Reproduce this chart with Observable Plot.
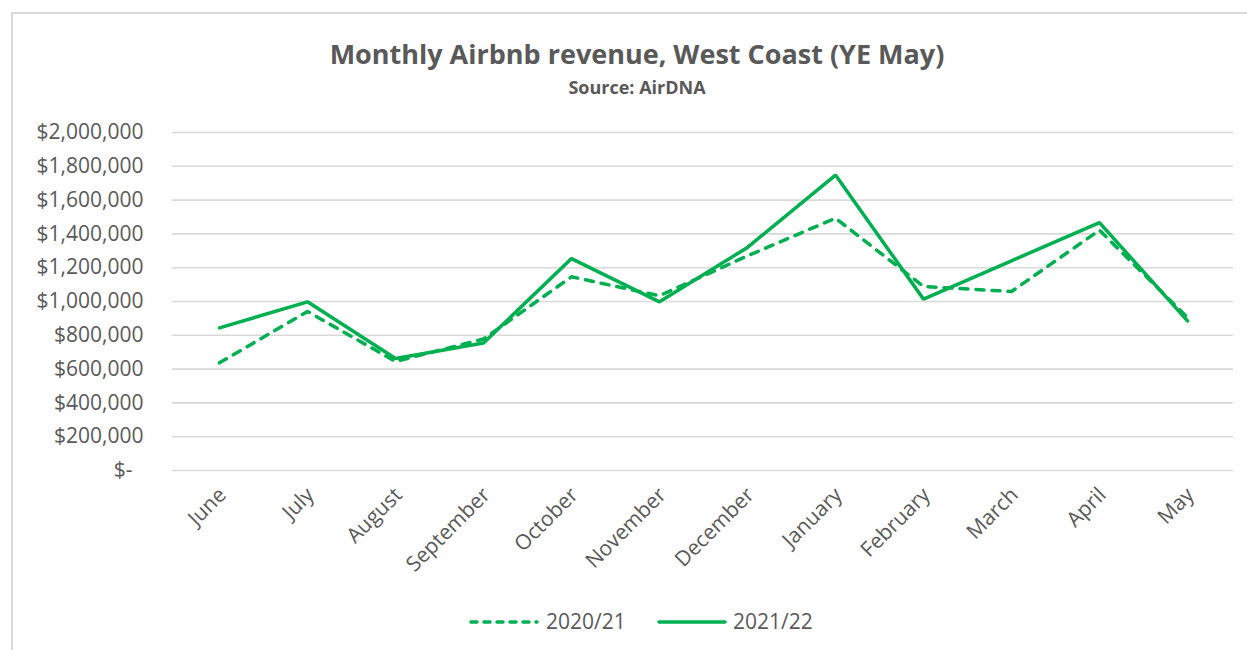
<!DOCTYPE html>
<html><head><meta charset="utf-8">
<script src="https://cdn.jsdelivr.net/npm/d3@7"></script>
<script src="https://cdn.jsdelivr.net/npm/@observablehq/plot@0.6"></script>
<style>
body{margin:0;background:#fff;}
#wrap{position:relative;width:1247px;height:650px;overflow:hidden;background:#fff}
#frame{position:absolute;left:11px;top:12px;width:1300px;height:700px;border:2px solid #d9d9d9;box-sizing:border-box}
#chart{position:absolute;left:0;top:0}
#overlay{position:absolute;left:0;top:0}
</style></head>
<body>
<div id="wrap"><div id="frame"></div><div id="chart"></div><svg id="overlay" width="1247" height="650"></svg></div>
<script>
const months = ["June","July","August","September","October","November","December","January","February","March","April","May"];
const series = ["2020/21","2021/22"];
const rev2021 = [637000, 941000, 645000, 778000, 1146000, 1034000, 1270000, 1493000, 1089000, 1059000, 1422000, 905000];
const rev2122 = [844000, 998000, 663000, 754000, 1254000, 998000, 1320000, 1748000, 1014000, 1241000, 1467000, 885000];
const yTicks = [0,200000,400000,600000,800000,1000000,1200000,1400000,1600000,1800000,2000000];
const title = "Monthly Airbnb revenue, West Coast (YE May)";
const subtitle = "Source: AirDNA";

const green = "#00b050";
const grey = "#595959";
const data = months.flatMap((m, i) => [
  {month: m, season: series[0], value: rev2021[i]},
  {month: m, season: series[1], value: rev2122[i]}
]);
const fmt = d => d === 0 ? "$-\u00a0\u00a0" : "$" + d3.format(",")(d);

const chart = Plot.plot({
  width: 1247, height: 650,
  marginLeft: 172, marginRight: 14, marginTop: 132, marginBottom: 180,
  style: {fontFamily: "Open Sans", color: grey, background: "transparent", overflow: "visible"},
  x: {type: "point", domain: months, padding: 0.5, axis: null},
  y: {domain: [0, 2000000], axis: null},
  marks: [
    Plot.gridY(yTicks, {stroke: "#d9d9d9", strokeOpacity: 1, strokeWidth: 1.6}),
    Plot.axisY(yTicks, {tickSize: 0, tickPadding: 29, tickFormat: fmt, fontSize: 21, fill: grey, label: null}),
    Plot.text(months, {x: d => d, frameAnchor: "bottom", rotate: -45, textAnchor: "end", lineAnchor: "middle", dx: 3, dy: 21, fontSize: 21, fill: grey}),
    Plot.line(data.filter(d => d.season === series[0]), {x: "month", y: "value", stroke: green, strokeWidth: 3.5, strokeDasharray: "8,8", strokeLinecap: "round", strokeLinejoin: "round"}),
    Plot.line(data.filter(d => d.season === series[1]), {x: "month", y: "value", stroke: green, strokeWidth: 3.5, strokeLinecap: "round", strokeLinejoin: "miter"})
  ]
});
document.getElementById("chart").appendChild(chart);

const ov = d3.select("#overlay").style("font-family", "Open Sans");
ov.append("text").attr("x", 637).attr("y", 64).attr("text-anchor", "middle")
  .attr("font-size", 27).attr("font-weight", "bold").attr("fill", grey).text(title);
ov.append("text").attr("x", 637).attr("y", 94).attr("text-anchor", "middle")
  .attr("font-size", 18).attr("font-weight", "bold").attr("fill", grey).text(subtitle);

const leg = [
  {label: series[0], x1: 471, x2: 537, dash: "6,7", tx: 546},
  {label: series[1], x1: 659, x2: 725, dash: null, tx: 733}
];
leg.forEach(l => {
  const ln = ov.append("line").attr("x1", l.x1).attr("x2", l.x2).attr("y1", 622).attr("y2", 622)
    .attr("stroke", green).attr("stroke-width", 3.5).attr("stroke-linecap", "round");
  if (l.dash) ln.attr("stroke-dasharray", l.dash);
  ov.append("text").attr("x", l.tx).attr("y", 622).attr("dy", "0.35em").attr("font-size", 21).attr("fill", grey).text(l.label);
});
</script>
</body></html>
